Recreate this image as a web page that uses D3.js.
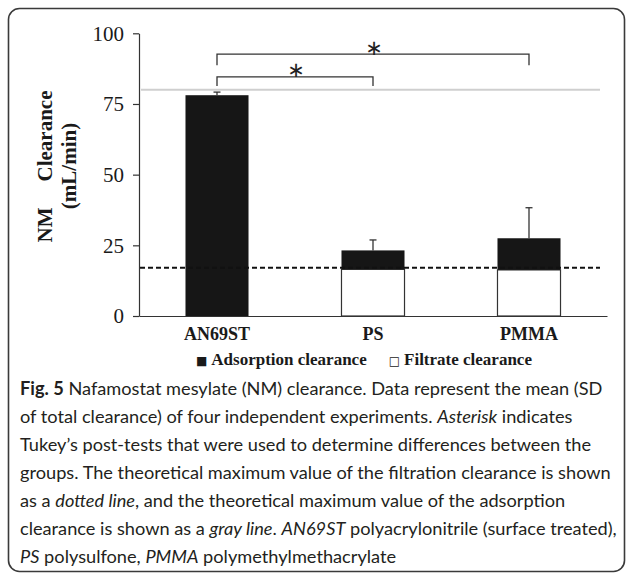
<!DOCTYPE html>
<html>
<head>
<meta charset="utf-8">
<script src="https://cdn.jsdelivr.net/npm/d3@7"></script>
<style>
  body { margin: 0; background: #fff; }
  svg { display: block; }
</style>
</head>
<body>
<div id="chart"></div>
<script>

// membranes and their clearances (mL/min)
var categories = ["AN69ST", "PS", "PMMA"];
var filtrate   = [0, 16.5, 16.3];
var adsorption = [78.1, 6.7, 11.2];
var totalSD    = [1.1, 3.7, 10.8];
var yTicks     = [0, 25, 50, 75, 100];

// theoretical maxima
var filtrationMax = 17.1;
var adsorptionMax = 80;

// Tukey post-test brackets: [from, to, level, leg end]
var brackets = [
  ["AN69ST", "PS",   84.6, 81.4],
  ["AN69ST", "PMMA", 92.6, 88.7]
];

var captionLines = [
  [["b", "Fig. 5"], ["r", " Nafamostat mesylate (NM) clearance. Data represent the mean (SD"]],
  [["r", "of total clearance) of four independent experiments. "], ["i", "Asterisk"], ["r", " indicates"]],
  [["r", "Tukey\u2019s post-tests that were used to determine differences between the"]],
  [["r", "groups. The theoretical maximum value of the filtration clearance is shown"]],
  [["r", "as a "], ["i", "dotted line"], ["r", ", and the theoretical maximum value of the adsorption"]],
  [["r", "clearance is shown as a "], ["i", "gray line"], ["r", ". "], ["i", "AN69ST"], ["r", " polyacrylonitrile (surface treated),"]],
  [["i", "PS"], ["r", " polysulfone, "], ["i", "PMMA"], ["r", " polymethylmethacrylate"]]
];

var W = 627, H = 574;
var serif = "'Liberation Serif', 'Times New Roman', serif";

var svg = d3.select("#chart").append("svg")
    .attr("width", W)
    .attr("height", H);

// frame round figure + caption
svg.append("rect")
    .attr("x", 8.5).attr("y", 8.5)
    .attr("width", 616).attr("height", 563)
    .attr("rx", 11)
    .attr("fill", "none")
    .attr("stroke", "#3a3a3a")
    .attr("stroke-width", 1.6);

var x = d3.scaleBand()
    .domain(categories)
    .range([139, 607])
    .paddingInner(0.596)
    .paddingOuter(0.298);

var y = d3.scaleLinear()
    .domain([0, 100])
    .range([316, 33.3]);

var data = categories.map(function (c, i) {
  return { cat: c, filt: filtrate[i], ads: adsorption[i], sd: totalSD[i], total: filtrate[i] + adsorption[i] };
});

// gray line: max adsorption clearance
svg.append("line")
    .attr("x1", 141).attr("x2", 600)
    .attr("y1", y(adsorptionMax)).attr("y2", y(adsorptionMax))
    .attr("stroke", "#cfcfcf")
    .attr("stroke-width", 2);

// filtrate part (white)
svg.selectAll("rect.filt")
    .data(data.filter(function (d) { return d.filt > 0; }))
    .enter().append("rect")
      .attr("class", "filt")
      .attr("x", function (d) { return x(d.cat); })
      .attr("width", x.bandwidth())
      .attr("y", function (d) { return y(d.filt); })
      .attr("height", function (d) { return y(0) - y(d.filt); })
      .attr("fill", "#fff")
      .attr("stroke", "#333")
      .attr("stroke-width", 1.2);

// adsorption part (black), stacked on top
svg.selectAll("rect.ads")
    .data(data)
    .enter().append("rect")
      .attr("class", "ads")
      .attr("x", function (d) { return x(d.cat); })
      .attr("width", x.bandwidth())
      .attr("y", function (d) { return y(d.total); })
      .attr("height", function (d) { return y(d.filt) - y(d.total); })
      .attr("fill", "#161616");

// dotted line: max filtration clearance (drawn over bars)
svg.append("line")
    .attr("x1", 140).attr("x2", 600)
    .attr("y1", y(filtrationMax)).attr("y2", y(filtrationMax))
    .attr("stroke", "#111")
    .attr("stroke-width", 2)
    .attr("stroke-dasharray", "5,3");

// error bars (SD of total), upper half only
var err = svg.selectAll("g.err")
    .data(data)
    .enter().append("g")
      .attr("class", "err")
      .attr("stroke", "#333")
      .attr("stroke-width", 1.3);

err.append("line")
    .attr("x1", function (d) { return x(d.cat) + x.bandwidth() / 2; })
    .attr("x2", function (d) { return x(d.cat) + x.bandwidth() / 2; })
    .attr("y1", function (d) { return y(d.total); })
    .attr("y2", function (d) { return y(d.total + d.sd); });

err.append("line")
    .attr("x1", function (d) { return x(d.cat) + x.bandwidth() / 2 - 3.5; })
    .attr("x2", function (d) { return x(d.cat) + x.bandwidth() / 2 + 3.5; })
    .attr("y1", function (d) { return y(d.total + d.sd); })
    .attr("y2", function (d) { return y(d.total + d.sd); });

// axes
var yAxis = svg.append("g")
    .attr("transform", "translate(139,0)")
    .call(d3.axisLeft(y).tickValues(yTicks).tickSize(6).tickPadding(9).tickSizeOuter(0));

yAxis.selectAll("text")
    .attr("font-family", serif)
    .attr("font-size", 21)
    .attr("fill", "#1a1a1a");
yAxis.selectAll("line, path").attr("stroke", "#333").attr("stroke-width", 1.2);

var xAxis = svg.append("g")
    .attr("transform", "translate(0," + y(0) + ")")
    .call(d3.axisBottom(x).tickSize(0).tickPadding(11).tickSizeOuter(0));

xAxis.selectAll("text")
    .attr("font-family", serif)
    .attr("font-weight", "bold")
    .attr("font-size", 18)
    .attr("fill", "#1a1a1a");
xAxis.select("path").attr("stroke", "#333").attr("stroke-width", 1.2);

// brackets with asterisks
var cx = function (c) { return x(c) + x.bandwidth() / 2; };

brackets.forEach(function (b) {
  var x1 = cx(b[0]), x2 = cx(b[1]);
  svg.append("path")
      .attr("d", "M" + x1 + "," + y(b[3]) + "V" + y(b[2]) + "H" + x2 + "V" + y(b[3]))
      .attr("fill", "none")
      .attr("stroke", "#333")
      .attr("stroke-width", 1.3);
  svg.append("text")
      .attr("x", (x1 + x2) / 2 + 1)
      .attr("y", y(b[2]) + 0.5)
      .attr("text-anchor", "middle")
      .attr("font-family", "'DejaVu Sans', sans-serif")
      .attr("font-size", 21)
      .attr("fill", "#222")
      .text("\u2217");
});

// y title
var yTitle = svg.append("text")
    .attr("transform", "translate(51.5,166.5) rotate(-90)")
    .attr("text-anchor", "middle")
    .attr("font-family", serif)
    .attr("font-weight", "bold")
    .attr("font-size", 21)
    .attr("fill", "#1a1a1a");
yTitle.append("tspan").text("NM");
yTitle.append("tspan").attr("dx", 26).text("Clearance");

svg.append("text")
    .attr("transform", "translate(76,166) rotate(-90)")
    .attr("text-anchor", "middle")
    .attr("font-family", serif)
    .attr("font-weight", "bold")
    .attr("font-size", 21)
    .attr("fill", "#1a1a1a")
    .text("(mL/min)");

// legend
var legend = svg.append("text")
    .attr("x", 196)
    .attr("y", 365)
    .attr("font-family", serif)
    .attr("font-weight", "bold")
    .attr("font-size", 17)
    .attr("fill", "#1a1a1a");
legend.append("tspan").attr("font-size", 12).attr("font-family", "'DejaVu Sans', sans-serif").text("\u25A0");
legend.append("tspan").attr("dx", 4).text("Adsorption clearance");
legend.append("tspan").attr("dx", 22).attr("font-size", 12).attr("font-weight", "normal").attr("font-family", "'DejaVu Sans', sans-serif").text("\u25A1");
legend.append("tspan").attr("dx", 4).text("Filtrate clearance");

// caption
var cap = svg.append("g")
    .attr("font-family", "Lato, 'Open Sans', sans-serif")
    .attr("fill", "#231f20");

var capLines = cap.selectAll("text")
    .data(captionLines)
    .enter().append("text")
      .attr("x", 20)
      .attr("y", function (d, i) { return 395 + i * 28; })
      .attr("xml:space", "preserve");

capLines.selectAll("tspan")
    .data(function (d) { return d; })
    .enter().append("tspan")
      .attr("font-weight", function (s) { return s[0] === "b" ? "bold" : null; })
      .attr("font-style", function (s) { return s[0] === "i" ? "italic" : null; })
      .text(function (s) { return s[1]; });

// fit caption font so the long line spans the box like the print
cap.attr("font-size", 18);
var longest = capLines.nodes()[3].getComputedTextLength();
cap.attr("font-size", (18 * 591 / longest).toFixed(2));

</script>
</body>
</html>
